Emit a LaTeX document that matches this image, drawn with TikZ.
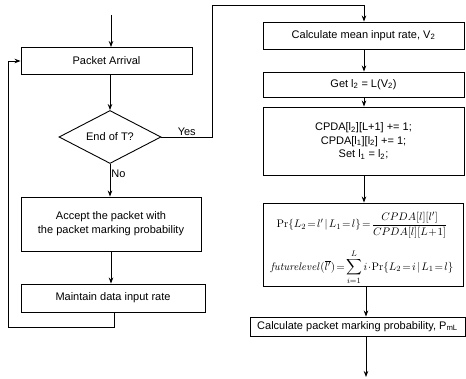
\documentclass[tikz,border=0pt]{standalone}
\usepackage{amsmath}
\usepackage[no-math]{fontspec}
\setmainfont{Liberation Sans}
\usetikzlibrary{shapes.geometric,arrows.meta}

% tighter spacing around relations and binary operators
\newcommand\tightmath{\thickmuskip=2mu\relax\medmuskip=1mu\relax}

\tikzset{
  box/.style={draw, line width=0.9pt, rectangle, inner sep=1pt, align=center,
              font=\fontsize{11}{14}\selectfont},
  decision/.style={draw, line width=0.9pt, diamond, aspect=1.92, inner sep=0pt,
              minimum width=102pt, minimum height=53pt,
              font=\fontsize{11}{14}\selectfont},
  formula/.style={inner sep=0pt, font=\fontsize{11.2}{12}\selectfont},
  flow/.style={line width=0.8pt, -{Stealth[length=6pt,width=4.5pt]}},
  lbl/.style={font=\fontsize{11}{14}\selectfont, inner sep=1pt}
}

\begin{document}
\begin{tikzpicture}[x=1pt,y=-1pt]
\useasboundingbox (0,0) rectangle (466,379);

% left column
\coordinate (start) at (111,15);
\node[box, minimum width=171pt, minimum height=27pt] (pa) at (106.5,61) {Packet Arrival};
\node[decision] (dec) at (110,137) {End of T?};
\node[box, minimum width=180pt, minimum height=54pt] (acc) at (111,224)
  {Accept the packet with\\the packet marking probability};
\node[box, minimum width=184pt, minimum height=28pt] (mnt) at (113,298) {Maintain data input rate};

% right column
\node[box, minimum width=201pt, minimum height=27pt] (cm) at (363.5,35.5)
  {Calculate mean input rate, V\textsubscript{2}};
\node[box, minimum width=201pt, minimum height=25pt] (gl) at (363.5,84.5)
  {Get l\textsubscript{2} = L(V\textsubscript{2})};
\node[box, minimum width=201pt, minimum height=68pt, font=\fontsize{11}{13.5}\selectfont] (cp) at (363.5,141)
  {CPDA[l\textsubscript{2}][L+1] += 1;\\CPDA[l\textsubscript{1}][l\textsubscript{2}] += 1;\\Set l\textsubscript{1} = l\textsubscript{2};};
\node[box, minimum width=200pt, minimum height=83pt] (fm) at (363,244.5) {};
\node[formula] (fa) at (362,225)
  {$\tightmath\displaystyle \Pr\{L_2=l'\mid L_1=l\}=\frac{CPDA[l][l']}{CPDA[l][L+1]}$};
\node[formula] (fb) at (362,267)
  {$\tightmath\displaystyle \mathit{futurelevel}(\overline{l'})=\sum_{i=1}^{L} i\cdot\Pr\{L_2=i\mid L_1=l\}$};
\node[box, minimum width=215pt, minimum height=19pt] (pm) at (357.5,326.5)
  {Calculate packet marking probability, P\textsubscript{mL}};
\coordinate (finish) at (364,377);

% connectors, left column
\draw[flow] (start) -- (pa.north -| start);
\draw[flow] (pa.south -| dec) -- (dec.north);
\draw[flow] (dec.south) -- node[lbl, right, pos=0.3] {No} (acc.north -| dec);
\draw[flow] (acc.south -| start) -- (mnt.north -| start);
\draw[flow] (mnt.south -| 114,0) -- (114,327) -- (8,327) -- (8,61) -- (pa.west);

% Yes branch to the right column
\draw[flow] (dec.east) -- node[lbl, above, pos=0.5] {Yes} (212,137) -- (212,5) -- (364,5) -- (cm.north -| 364,0);

% connectors, right column
\draw[flow] (cm.south -| 364,0) -- (gl.north -| 364,0);
\draw[flow] (gl.south -| 364,0) -- (cp.north -| 364,0);
\draw[flow] (cp.south -| 364,0) -- (fm.north -| 364,0);
\draw[flow] (fm.south -| 366,0) -- (pm.north -| 366,0);
\draw[flow] (pm.south -| 366,0) -- (finish -| 366,0);
\end{tikzpicture}
\end{document}
